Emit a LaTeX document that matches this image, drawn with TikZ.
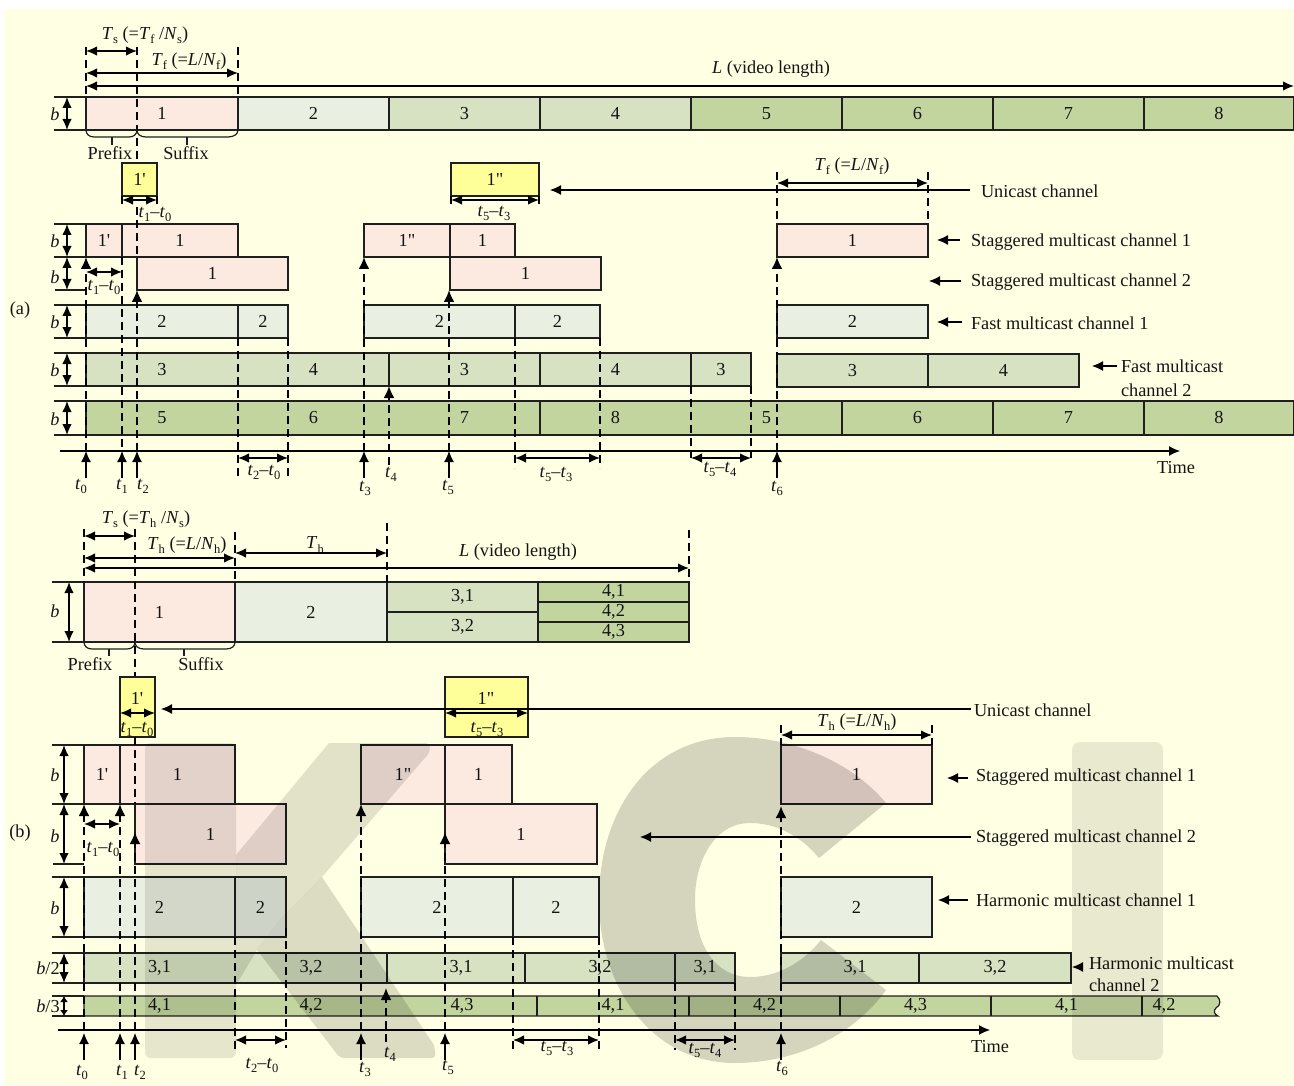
\documentclass[tikz,border=0pt]{standalone}
\usepackage{fontspec}
\setmainfont{Liberation Serif}
\newfontfamily\strt{Liberation Serif}
\usetikzlibrary{arrows.meta}
\definecolor{bgc}{HTML}{FFFFE3}
\definecolor{cA}{HTML}{FCE9DF}
\definecolor{cB}{HTML}{E9EFE1}
\definecolor{cC}{HTML}{D6E2C2}
\definecolor{cD}{HTML}{C2D59E}
\definecolor{cY}{HTML}{FFFF99}
\newcounter{cn}
\newcommand{\tsb}[2]{\textit{#1}\raisebox{-0.22em}{\fontsize{12.5}{12.5}\selectfont #2}}
\newcommand{\cel}[7]{\node[cell,fill=#6,minimum width=#3pt-#2pt,minimum height=#5pt-#4pt] (#1) at ({(#2+#3)/2},{(#4+#5)/2}) {#7};}
\newcommand{\rowfr}[2]{\draw[ln] (#1.north west) rectangle (#2.south east);}
\newcommand{\sepr}[1]{\draw[ln] (#1.north east) -- (#1.south east);}
\newcommand{\stub}[2]{\draw[ln] (#1.north west) -- ++(-#2,0); \draw[ln] (#1.south west) -- ++(-#2,0);}
\newcommand{\conn}[5]{\stepcounter{cn}\coordinate (c\arabic{cn}s) at (#2,#3); \coordinate (c\arabic{cn}e) at (#4,#5); \draw[#1] (c\arabic{cn}s) -- (c\arabic{cn}e);}
\newcommand{\lab}[4]{\node[txt] (#1) at (#2,#3) {#4};}
\newcommand{\labl}[4]{\node[txt,anchor=west] (#1) at (#2,#3) {#4};}
\newcommand{\pa}{{\strt 1'}}
\newcommand{\pb}{{\strt 1"}}
\tikzset{
 x=1pt,y=-1pt,
 cell/.style={inner sep=0pt,outer sep=0pt,draw=none,font=\fontsize{18.3}{20}\selectfont,text=black!92},
 txt/.style={inner sep=0pt,outer sep=0pt,font=\fontsize{18.3}{20}\selectfont,text=black!92,align=left},
 ln/.style={line width=1.2pt,draw=black!88},
 dsh/.style={line width=2.1pt,dash pattern=on 8pt off 5pt,draw=black},
 dimar/.style={line width=1.3pt,{Latex[length=11pt,width=9.5pt]}-{Latex[length=11pt,width=9.5pt]}},
 ar/.style={line width=1.2pt,-{Latex[length=11pt,width=10pt]}},
 upd/.style={line width=2.1pt,dash pattern=on 8pt off 5pt,-{Latex[length=12pt,width=11pt]}},
}
\begin{document}
\begin{tikzpicture}
\useasboundingbox (0,0) rectangle (1294,1086);
\fill[white] (0,0) rectangle (1294,1086);
\fill[bgc] (4,9) rectangle (1294,1086);
% ===== (a) top row =====
\cel{ra1}{86}{238}{97}{130}{cA}{1}
\cel{ra2}{238}{389}{97}{130}{cB}{2}
\cel{ra3}{389}{540}{97}{130}{cC}{3}
\cel{ra4}{540}{691}{97}{130}{cC}{4}
\cel{ra5}{691}{842}{97}{130}{cD}{5}
\cel{ra6}{842}{993}{97}{130}{cD}{6}
\cel{ra7}{993}{1144}{97}{130}{cD}{7}
\cel{ra8}{1144}{1294}{97}{130}{cD}{8}
\rowfr{ra1}{ra8}\stub{ra1}{32}
\sepr{ra1}\sepr{ra2}\sepr{ra3}\sepr{ra4}\sepr{ra5}\sepr{ra6}\sepr{ra7}
% yellow
\cel{ya1}{122}{157}{163}{196}{cY}{\pa}
\cel{ya2}{451}{539}{163}{196}{cY}{\pb}
\rowfr{ya1}{ya1}\rowfr{ya2}{ya2}
% S1
\cel{sa1}{86}{122}{224}{257}{cA}{\pa}
\cel{sa2}{122}{238}{224}{257}{cA}{1}
\rowfr{sa1}{sa2}\sepr{sa1}\stub{sa1}{32}
\cel{sa3}{364}{450}{224}{257}{cA}{\pb}
\cel{sa4}{450}{515}{224}{257}{cA}{1}
\rowfr{sa3}{sa4}\sepr{sa3}
\cel{sa5}{777}{928}{224}{257}{cA}{1}
\rowfr{sa5}{sa5}
% S2
\cel{sb1}{137}{288}{257}{290}{cA}{1}
\rowfr{sb1}{sb1}
\cel{sb2}{450}{601}{257}{290}{cA}{1}
\rowfr{sb2}{sb2}
% F1
\cel{fa1}{86}{238}{305}{338}{cB}{2}
\cel{fa2}{238}{288}{305}{338}{cB}{2}
\rowfr{fa1}{fa2}\sepr{fa1}\stub{fa1}{32}
\cel{fa3}{364}{515}{305}{338}{cB}{2}
\cel{fa4}{515}{600}{305}{338}{cB}{2}
\rowfr{fa3}{fa4}\sepr{fa3}
\cel{fa5}{777}{928}{305}{338}{cB}{2}
\rowfr{fa5}{fa5}
% F2
\cel{fb1}{86}{238}{353}{386}{cC}{3}
\cel{fb2}{238}{389}{353}{386}{cC}{4}
\cel{fb3}{389}{540}{353}{386}{cC}{3}
\cel{fb4}{540}{691}{353}{386}{cC}{4}
\cel{fb5}{691}{751}{353}{386}{cC}{3}
\rowfr{fb1}{fb5}\stub{fb1}{32}\sepr{fb2}\sepr{fb3}\sepr{fb4}
\cel{fb6}{777}{928}{354}{387}{cC}{3}
\cel{fb7}{928}{1079}{354}{387}{cC}{4}
\rowfr{fb6}{fb7}\sepr{fb6}
% F3
\cel{fc1}{86}{238}{401}{435}{cD}{5}
\cel{fc2}{238}{389}{401}{435}{cD}{6}
\cel{fc3}{389}{540}{401}{435}{cD}{7}
\cel{fc4}{540}{691}{401}{435}{cD}{8}
\cel{fc5}{691}{842}{401}{435}{cD}{5}
\cel{fc6}{842}{993}{401}{435}{cD}{6}
\cel{fc7}{993}{1144}{401}{435}{cD}{7}
\cel{fc8}{1144}{1294}{401}{435}{cD}{8}
\rowfr{fc1}{fc8}\stub{fc1}{32}\sepr{fc3}\sepr{fc5}\sepr{fc6}\sepr{fc7}
% stub S2 bottom
\conn{ln}{55}{290}{86}{290}
% (a) time axis
\conn{ar}{60}{451}{1180}{451}
% (a) dim labels
\lab{la1}{145}{35}{\tsb{T}{s} (=\tsb{T}{f} /\tsb{N}{s})}
\lab{la2}{189}{61}{\tsb{T}{f} (=\textit{L}/\tsb{N}{f})}
\lab{la3}{771}{69}{\textit{L} (video length)}
\conn{dimar}{86}{51}{137}{51}
\conn{dimar}{86}{73}{238}{73}
\conn{dimar}{86}{86}{1294}{86}
\conn{dsh}{86}{47}{86}{97}
\conn{dsh}{137}{47}{137}{163}
\conn{dsh}{238}{47}{238}{97}
\lab{lb0}{55}{114}{\textit{b}}
\conn{dimar}{67}{97}{67}{130}
\foreach \yy/\zz in {224/257,257/290,305/338,353/386,401/435}{\conn{dimar}{67}{\yy}{67}{\zz}}
\lab{lb1}{55}{241}{\textit{b}}\lab{lb2}{55}{277}{\textit{b}}\lab{lb3}{55}{322}{\textit{b}}\lab{lb4}{55}{370}{\textit{b}}\lab{lb5}{55}{419}{\textit{b}}
% braces
\draw[ln] (ra1.south west) .. controls (86,134) and (89,137) .. (94,137) -- (129,137) .. controls (134,137) and (137,134) .. (137,130) .. controls (137,134) and (140,137) .. (146,137) -- (228,137) .. controls (234,137) and (238,134) .. (ra1.south east);
\conn{ln}{112}{137}{112}{145}
\conn{ln}{187}{137}{187}{145}
\lab{lpa}{110}{153}{Prefix}
\lab{lsa}{186}{153}{Suffix}
% yellow dims
\conn{dsh}{122}{196}{122}{207}
\conn{dsh}{157}{196}{157}{207}
\conn{dimar}{122}{200}{157}{200}
\lab{lt1}{155}{214}{\tsb{t}{1}–\tsb{t}{0}}
\conn{dsh}{451}{196}{451}{207}
\conn{dsh}{539}{196}{539}{207}
\conn{dimar}{451}{200}{539}{200}
\lab{lt2}{494}{213}{\tsb{t}{5}–\tsb{t}{3}}
% dashed (a)
\conn{upd}{86}{451}{86}{257}
\conn{dsh}{122}{257}{122}{451}
\conn{dsh}{137}{207}{137}{257}
\conn{upd}{137}{451}{137}{290}
\conn{dimar}{86}{272}{122}{272}
\lab{lt3}{104}{287}{\tsb{t}{1}–\tsb{t}{0}}
\conn{dsh}{238}{338}{238}{480}
\conn{dsh}{288}{338}{288}{480}
\conn{dimar}{238}{458}{288}{458}
\lab{lt4}{264}{472}{\tsb{t}{2}–\tsb{t}{0}}
\conn{upd}{364}{451}{364}{257}
\conn{upd}{389}{465}{389}{386}
\conn{upd}{449}{451}{449}{290}
\conn{dsh}{515}{338}{515}{468}
\conn{dsh}{600}{338}{600}{468}
\conn{dimar}{515}{458}{600}{458}
\lab{lt5}{556}{474}{\tsb{t}{5}–\tsb{t}{3}}
\conn{dsh}{691}{386}{691}{458}
\conn{dsh}{751}{386}{751}{458}
\conn{dimar}{691}{458}{751}{458}
\lab{lt6}{720}{469}{\tsb{t}{5}–\tsb{t}{4}}
\conn{upd}{777}{451}{777}{257}
\conn{dsh}{777}{172}{777}{224}
\conn{dsh}{928}{172}{928}{224}
\conn{dimar}{777}{183}{928}{183}
\lab{lt7}{852}{166}{\tsb{T}{f} (=\textit{L}/\tsb{N}{f})}
% (a) bottom arrows
\foreach \xx in {86,122,137,364,449,777}{\conn{ar}{\xx}{478}{\xx}{451}}
\lab{tz0}{81}{486}{\tsb{t}{0}}\lab{tz1}{122}{486}{\tsb{t}{1}}\lab{tz2}{143}{486}{\tsb{t}{2}}\lab{tz3}{365}{488}{\tsb{t}{3}}\lab{tz4}{391}{474}{\tsb{t}{4}}\lab{tz5}{448}{487}{\tsb{t}{5}}\lab{tz6}{777}{488}{\tsb{t}{6}}
\lab{tma}{1176}{468}{Time}
\lab{la}{20}{310}{(a)}
% (a) legend
\labl{ua}{981}{191}{Unicast channel}
\conn{ar}{970}{190}{550}{190}
\labl{sg1}{971}{242}{Staggered multicast channel 1}
\conn{ar}{960}{240}{937}{240}
\labl{sg2}{971}{282}{Staggered multicast channel 2}
\conn{ar}{961}{281}{929}{281}
\labl{fm1}{971}{323}{Fast multicast channel 1}
\conn{ar}{962}{322}{937}{322}
\labl{fm2}{1121}{366}{Fast multicast}
\labl{fm3}{1121}{390}{channel 2}
\conn{ar}{1117}{366}{1092}{366}
% ===== (b) top =====
\cel{rb1}{84}{235}{582}{642}{cA}{1}
\cel{rb2}{235}{387}{582}{642}{cB}{2}
\cel{rb3}{387}{538}{582}{612}{cC}{3,1}
\cel{rb4}{387}{538}{612}{642}{cC}{3,2}
\cel{rb5}{538}{689}{582}{602}{cD}{4,1}
\cel{rb6}{538}{689}{602}{622}{cD}{4,2}
\cel{rb7}{538}{689}{622}{642}{cD}{4,3}
\rowfr{rb1}{rb7}\stub{rb1}{32}\sepr{rb1}\sepr{rb2}\sepr{rb3}\sepr{rb4}
\rowfr{rb3}{rb3}\rowfr{rb5}{rb5}\rowfr{rb6}{rb6}\rowfr{rb7}{rb7}
\lab{lc1}{146}{519}{\tsb{T}{s} (=\tsb{T}{h} /\tsb{N}{s})}
\lab{lc2}{187}{545}{\tsb{T}{h} (=\textit{L}/\tsb{N}{h})}
\lab{lc3}{315}{545}{\tsb{T}{h}}
\lab{lc4}{518}{552}{\textit{L} (video length)}
\conn{dimar}{84}{536}{135}{536}
\conn{dimar}{84}{558}{235}{558}
\conn{dimar}{235}{553}{387}{553}
\conn{dimar}{84}{568}{689}{568}
\conn{dsh}{84}{529}{84}{582}
\conn{dsh}{135}{529}{135}{677}
\conn{dsh}{235}{532}{235}{582}
\conn{dsh}{387}{523}{387}{582}
\conn{dsh}{689}{530}{689}{582}
\conn{dimar}{69}{582}{69}{642}
\lab{lb6}{55}{611}{\textit{b}}
\draw[ln] (rb1.south west) .. controls (84,646) and (87,649) .. (92,649) -- (127,649) .. controls (132,649) and (135,646) .. (135,642) .. controls (135,646) and (138,649) .. (144,649) -- (226,649) .. controls (232,649) and (235,646) .. (rb1.south east);
\conn{ln}{109}{649}{109}{656}
\conn{ln}{184}{649}{184}{656}
\lab{lpb}{90}{664}{Prefix}
\lab{lsb}{201}{664}{Suffix}
% yellow (b)
\cel{yb1}{120}{155}{677}{737}{cY}{}
\cel{yb2}{445}{528}{677}{737}{cY}{}
\rowfr{yb1}{yb1}\rowfr{yb2}{yb2}
\lab{ly1}{137}{698}{\pa}
\lab{ly2}{486}{698}{\pb}
\conn{dimar}{120}{713}{155}{713}
\conn{dimar}{445}{713}{528}{713}
\lab{lt8}{137}{729}{\tsb{t}{1}–\tsb{t}{0}}
\lab{lt9}{487}{729}{\tsb{t}{5}–\tsb{t}{3}}
% S1 (b)
\cel{sc1}{84}{120}{745}{804}{cA}{\pa}
\cel{sc2}{120}{235}{745}{804}{cA}{1}
\rowfr{sc1}{sc2}\sepr{sc1}\stub{sc1}{32}
\cel{sc3}{361}{445}{745}{804}{cA}{\pb}
\cel{sc4}{445}{512}{745}{804}{cA}{1}
\rowfr{sc3}{sc4}\sepr{sc3}
\cel{sc5}{781}{932}{745}{804}{cA}{1}
\rowfr{sc5}{sc5}
% S2
\cel{sd1}{135}{286}{804}{864}{cA}{1}
\rowfr{sd1}{sd1}
\cel{sd2}{445}{597}{804}{864}{cA}{1}
\rowfr{sd2}{sd2}
\conn{ln}{53}{864}{84}{864}
% H1
\cel{ha1}{84}{235}{877}{937}{cB}{2}
\cel{ha2}{235}{286}{877}{937}{cB}{2}
\rowfr{ha1}{ha2}\sepr{ha1}\stub{ha1}{32}
\cel{ha3}{361}{513}{877}{937}{cB}{2}
\cel{ha4}{513}{599}{877}{937}{cB}{2}
\rowfr{ha3}{ha4}\sepr{ha3}
\cel{ha5}{781}{932}{877}{937}{cB}{2}
\rowfr{ha5}{ha5}
% H2
\cel{hb1}{84}{235}{953}{983}{cC}{3,1}
\cel{hb2}{235}{387}{953}{983}{cC}{3,2}
\cel{hb3}{387}{525}{953}{983}{cC}{\hspace*{10pt}3,1}
\cel{hb4}{525}{675}{953}{983}{cC}{3,2}
\cel{hb5}{675}{735}{953}{983}{cC}{3,1}
\rowfr{hb1}{hb5}\stub{hb1}{32}\sepr{hb2}\sepr{hb3}\sepr{hb4}
\cel{hb6}{781}{919}{953}{983}{cC}{\hspace*{10pt}3,1}
\cel{hb7}{919}{1071}{953}{983}{cC}{3,2}
\rowfr{hb6}{hb7}\sepr{hb6}
% H3
\cel{hc1}{84}{235}{996}{1016}{cD}{4,1}
\cel{hc2}{235}{387}{996}{1016}{cD}{4,2}
\cel{hc3}{387}{537}{996}{1016}{cD}{4,3}
\cel{hc4}{537}{689}{996}{1016}{cD}{4,1}
\cel{hc5}{689}{840}{996}{1016}{cD}{4,2}
\cel{hc6}{840}{991}{996}{1016}{cD}{4,3}
\cel{hc7}{991}{1142}{996}{1016}{cD}{4,1}
\fill[cD] (1142,996) -- (1217,996) .. controls (1221,1000) and (1221,1005) .. (1216,1008) .. controls (1213,1011) and (1214,1014) .. (1218,1016) -- (1142,1016) -- cycle;
\draw[ln] (hc1.north west) -- (1217,996) .. controls (1221,1000) and (1221,1005) .. (1216,1008) .. controls (1213,1011) and (1214,1014) .. (1218,1016) -- (hc1.south west) -- cycle;
\lab{lx}{1164}{1006}{4,2}
\stub{hc1}{32}\sepr{hc3}\sepr{hc4}\sepr{hc5}\sepr{hc6}\sepr{hc7}
% time axis b
\conn{ar}{58}{1030}{990}{1030}
\lab{tmb}{990}{1047}{Time}
\lab{lb}{20}{833}{(b)}
% b dims
\conn{dimar}{64}{745}{64}{804}
\conn{dimar}{64}{804}{64}{864}
\conn{dimar}{64}{877}{64}{937}
\conn{dimar}{64}{953}{64}{983}
\conn{line width=1.3pt,{Latex[length=6pt,width=8pt]}-{Latex[length=6pt,width=8pt]}}{64}{996}{64}{1016}
\lab{lb7}{55}{775}{\textit{b}}\lab{lb8}{55}{836}{\textit{b}}\lab{lb9}{55}{908}{\textit{b}}
\lab{lb10}{48}{968}{\textit{b}/2}\lab{lb11}{48}{1006}{\textit{b}/3}
% dashed (b)
\conn{upd}{84}{1030}{84}{804}
\conn{upd}{120}{1030}{120}{804}
\conn{dsh}{135}{737}{135}{804}
\conn{upd}{135}{1030}{135}{832}
\conn{dimar}{84}{824}{120}{824}
\lab{lt10}{103}{849}{\tsb{t}{1}–\tsb{t}{0}}
\conn{dsh}{235}{937}{235}{1050}
\conn{dsh}{286}{928}{286}{1048}
\conn{dimar}{235}{1040}{286}{1040}
\lab{lt11}{262}{1065}{\tsb{t}{2}–\tsb{t}{0}}
\conn{upd}{361}{1030}{361}{804}
\conn{upd}{386}{1042}{386}{988}
\conn{upd}{445}{1030}{445}{832}
\conn{dsh}{513}{937}{513}{1050}
\conn{dsh}{599}{937}{599}{1050}
\conn{dimar}{513}{1040}{599}{1040}
\lab{lt12}{557}{1048}{\tsb{t}{5}–\tsb{t}{3}}
\conn{dsh}{675}{983}{675}{1050}
\conn{dsh}{735}{983}{735}{1050}
\conn{dimar}{675}{1040}{735}{1040}
\lab{lt13}{705}{1050}{\tsb{t}{5}–\tsb{t}{4}}
\conn{upd}{781}{1030}{781}{806}
\conn{dsh}{781}{725}{781}{745}
\conn{dsh}{932}{725}{932}{745}
\conn{dimar}{781}{735}{932}{735}
\lab{lt14}{857}{722}{\tsb{T}{h} (=\textit{L}/\tsb{N}{h})}
\foreach \xx in {84,120,135,361,445,781}{\conn{ar}{\xx}{1060}{\xx}{1033}}
\lab{ty0}{82}{1072}{\tsb{t}{0}}\lab{ty1}{122}{1072}{\tsb{t}{1}}\lab{ty2}{140}{1072}{\tsb{t}{2}}\lab{ty3}{365}{1069}{\tsb{t}{3}}\lab{ty4}{390}{1054}{\tsb{t}{4}}\lab{ty5}{448}{1067}{\tsb{t}{5}}\lab{ty6}{782}{1068}{\tsb{t}{6}}
% (b) legend
\labl{ub}{974}{710}{Unicast channel}
\conn{ar}{971}{709}{161}{709}
\labl{sh1}{976}{777}{Staggered multicast channel 1}
\conn{ar}{968}{778}{947}{778}
\labl{sh2}{976}{838}{Staggered multicast channel 2}
\conn{ar}{971}{837}{640}{837}
\labl{hm1}{976}{900}{Harmonic multicast channel 1}
\conn{ar}{968}{900}{938}{900}
\labl{hm2}{1089}{963}{Harmonic multicast}
\labl{hm3}{1089}{985}{channel 2}
\conn{ar}{1083}{967}{1072}{967}
% ===== watermark =====
\begin{scope}[blend mode=multiply]
\fill[rounded corners=6pt,fill={rgb,255:red,230;green,230;blue,230}] (145,743) -- (236,743) -- (236,1058) -- (145,1058) -- cycle;
\fill[fill={rgb,255:red,226;green,226;blue,226}] (236,855) -- (329,743) -- (425,743) [rounded corners=4pt] -- (430,743) -- (430,752) [sharp corners] -- (322,877) -- (280,920) -- (257,950) -- (236,985) -- cycle;
\fill[fill={rgb,255:red,220;green,220;blue,220}] (322,877) -- (434,1045) [rounded corners=4pt] -- (436,1058) -- (340,1058) [sharp corners] -- (257,950) -- (280,920) -- cycle;
\fill[fill={rgb,255:red,213;green,213;blue,213}] (886,803) -- (819,858) .. controls (800,835) and (775,823) .. (750,823) .. controls (715,823) and (695,860) .. (695,900) .. controls (695,945) and (715,977) .. (750,977) .. controls (780,977) and (805,960) .. (821,940) -- (886,990) .. controls (850,1040) and (790,1063) .. (735,1063) .. controls (650,1063) and (599,985) .. (599,900) .. controls (599,810) and (650,737) .. (735,737) .. controls (790,737) and (850,760) .. (886,803) -- cycle;
\fill[rounded corners=8pt,fill={rgb,255:red,233;green,233;blue,233}] (1072,742) -- (1163,742) -- (1163,1060) -- (1072,1060) -- cycle;
\end{scope}
\end{tikzpicture}
\end{document}
